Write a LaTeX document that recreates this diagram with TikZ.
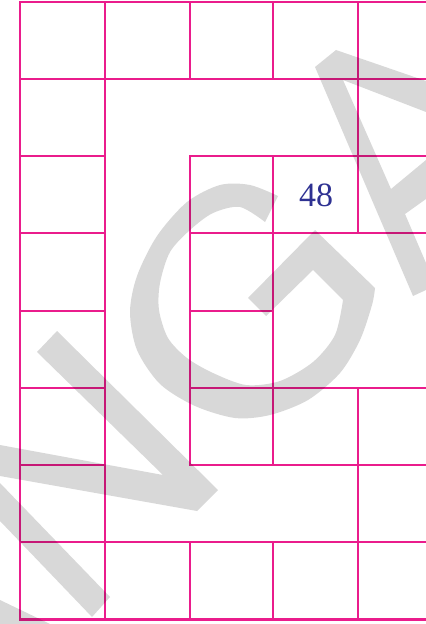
\documentclass[tikz,border=0pt]{standalone}
\usepackage{fontspec}
\setmainfont{Liberation Serif}
\definecolor{gridpink}{RGB}{234,28,140}
\definecolor{numblue}{RGB}{46,49,146}
\definecolor{markgray}{RGB}{216,216,216}

\begin{document}
\begin{tikzpicture}[x=0.03cm,y=-0.03cm]
    % Styles
    \tikzset{gridline/.style={draw=gridpink,line width=2.3pt,line cap=rect},
             markshape/.style={fill=markgray}}
    \useasboundingbox (0,0) rectangle (426,624);

    % --- Horizontal lines ---
    \draw[gridline] (20,2) -- (426,2);
    \draw[gridline] (20,79) -- (426,79);
    \draw[gridline] (20,156) -- (105,156) (190,156) -- (426,156);
    \draw[gridline] (20,233) -- (105,233) (190,233) -- (426,233);
    \draw[gridline] (20,311) -- (105,311) (190,311) -- (273,311);
    \draw[gridline] (20,388) -- (105,388) (190,388) -- (426,388);
    \draw[gridline] (20,465) -- (105,465) (190,465) -- (426,465);
    \draw[gridline] (20,542) -- (426,542);
    \draw[gridline] (20,619.5) -- (426,619.5);

    % --- Vertical lines ---
    \draw[gridline] (20,2) -- (20,619.5);
    \draw[gridline] (105,2) -- (105,619.5);
    \draw[gridline] (190,2) -- (190,79) (190,156) -- (190,465) (190,542) -- (190,619.5);
    \draw[gridline] (273,2) -- (273,79) (273,156) -- (273,465) (273,542) -- (273,619.5);
    \draw[gridline] (358,2) -- (358,233) (358,388) -- (358,619.5);

    % --- Number ---
    \node[text=numblue, font=\fontsize{29}{29}\selectfont] (num) at (316,195) {48};

    % --- Watermark ---
    \begin{scope}[blend mode=multiply]
    % N
    \fill[markshape] (37,352) -- (57,331) -- (218,490) -- (197,511) -- (0,476)
        -- (0,445) -- (163,475) -- cycle;
    \fill[markshape] (0,483) -- (110,597) -- (92,617) -- (0,521) -- cycle;
    \fill[markshape] (0,600) -- (50,624) -- (0,624) -- cycle;
    % G
    \fill[markshape] plot[smooth] coordinates {(278,196) (250,185) (220,185) (187,202)
        (157,236) (137,276) (130,312) (137,350) (160,384) (195,406) (235,418) (270,415)
        (308,400) (340,373) (360,340) (372,305) (375,288)}
        -- (315,230) -- (248,298) -- (266,316) -- (313,270) -- (343,300)
        -- plot[smooth] coordinates {(343,300) (335,335) (313,362) (280,381) (246,385)
        (213,373) (187,358) (168,338) (159,310) (160,283) (170,252) (190,230) (213,213)
        (240,207) (265,222)} -- cycle;
    % A
    \fill[markshape] (413,296) -- (315,67) -- (336,50) -- (426,81) -- (426,112)
        -- (343,80) -- (391,189) -- (426,160) -- (426,199) -- (405,214) -- (426,263)
        -- (426,290) -- cycle;
    \end{scope}
\end{tikzpicture}
\end{document}
